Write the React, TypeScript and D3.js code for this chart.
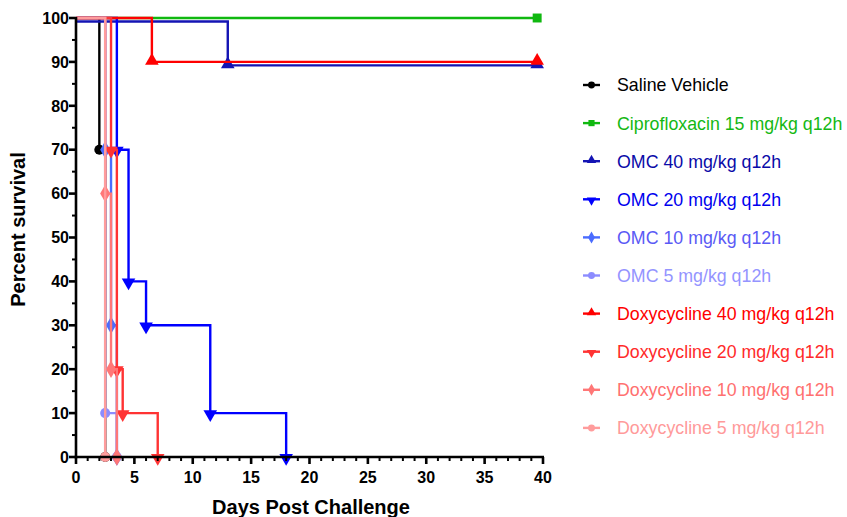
import React from "react";
import * as d3 from "d3";

// ---- data ----
const seriesNames = [
  "Saline Vehicle",
  "Ciprofloxacin 15 mg/kg q12h",
  "OMC 40 mg/kg q12h",
  "OMC 20 mg/kg q12h",
  "OMC 10 mg/kg q12h",
  "OMC 5 mg/kg q12h",
  "Doxycycline 40 mg/kg q12h",
  "Doxycycline 20 mg/kg q12h",
  "Doxycycline 10 mg/kg q12h",
  "Doxycycline 5 mg/kg q12h",
];

const salineDays = [0, 2, 2.5];
const salinePct = [100, 70, 0];
const ciproDays = [0, 39.5];
const ciproPct = [100, 100];
const omc40Days = [0, 13, 39.5];
const omc40Pct = [99.2, 89.2, 89.2];
const omc20Days = [0, 3.5, 4.5, 6, 11.5, 18];
const omc20Pct = [100, 70, 40, 30, 10, 0];
const omc10Days = [0, 2.5, 3, 3.5];
const omc10Pct = [100, 70, 30, 0];
const omc5Days = [0, 2.5, 3.5];
const omc5Pct = [100, 10, 0];
const doxy40Days = [0, 6.5, 39.5];
const doxy40Pct = [100, 90, 90];
const doxy20Days = [0, 3, 3.5, 4, 7];
const doxy20Pct = [100, 70, 20, 10, 0];
const doxy10Days = [0, 2.5, 3, 3.5];
const doxy10Pct = [100, 60, 20, 0];
const doxy5Days = [0, 2.5];
const doxy5Pct = [100, 0];

const xTicks = [0, 5, 10, 15, 20, 25, 30, 35, 40];
const yTicks = [0, 10, 20, 30, 40, 50, 60, 70, 80, 90, 100];

const allDays = [salineDays, ciproDays, omc40Days, omc20Days, omc10Days, omc5Days, doxy40Days, doxy20Days, doxy10Days, doxy5Days];
const allPct = [salinePct, ciproPct, omc40Pct, omc20Pct, omc10Pct, omc5Pct, doxy40Pct, doxy20Pct, doxy10Pct, doxy5Pct];

const lineColors = ["#000000", "#10b810", "#1414b4", "#0000ff", "#4a6cff", "#8c8cff", "#ff0000", "#ff3333", "#ff7777", "#ff9c9c"];
const textColors = ["#000000", "#14b814", "#0a0aa8", "#0000ee", "#5a5af5", "#9494ff", "#ff0000", "#ff2a2a", "#ff7070", "#ff9a9a"];
const shapes = ["circle", "square", "triUp", "triDown", "diamond", "circle", "triUp", "triDown", "diamond", "circle"];

const W = 847;
const H = 517;
const m = { left: 76, right: 543, top: 18, bottom: 457 };

function symbolPath(shape: string, size: number) {
  if (shape === "circle") return d3.symbol(d3.symbolCircle, size)() as string;
  if (shape === "square") return d3.symbol(d3.symbolSquare, size)() as string;
  if (shape === "diamond") return d3.symbol(d3.symbolDiamond, size * 1.1)() as string;
  return d3.symbol(d3.symbolTriangle, size)() as string;
}

function Marker({ shape, x, y, size, color }: { shape: string; x: number; y: number; size: number; color: string }) {
  const rot = shape === "triDown" ? 180 : 0;
  const dy = shape === "triUp" ? -1 : shape === "triDown" ? 1 : 0;
  return (
    <path
      d={symbolPath(shape, size)}
      transform={`translate(${x},${y + dy}) rotate(${rot})`}
      fill={color}
    />
  );
}

export default function App() {
  const x = d3.scaleLinear().domain([0, 40]).range([m.left, m.right]);
  const y = d3.scaleLinear().domain([0, 100]).range([m.bottom, m.top]);
  const line = d3
    .line<[number, number]>()
    .x((d) => x(d[0]))
    .y((d) => y(d[1]))
    .curve(d3.curveStepAfter);

  const font = "'Liberation Sans', Arial, Helvetica, sans-serif";
  const xMinor = d3.range(0, 41, 1);
  const yMinor = d3.range(5, 100, 10);

  const legendY0 = 85;
  const legendStep = 38.1;

  return (
    <svg
      width={W}
      height={H}
      style={{ position: "fixed", left: 0, top: 0, background: "#fff" }}
      fontFamily={font}
    >
      {/* series */}
      {allDays.map((days, i) => {
        const pts = days.map((d, j) => [d, allPct[i][j]] as [number, number]);
        return (
          <g key={i}>
            <path d={line(pts) as string} fill="none" stroke={lineColors[i]} strokeWidth={2.4} />
            {pts.slice(1).map((p, j) => (
              <Marker key={j} shape={shapes[i]} x={x(p[0])} y={y(p[1])} size={80} color={lineColors[i]} />
            ))}
          </g>
        );
      })}

      {/* axes */}
      <g stroke="#000" strokeWidth={2.6}>
        <line x1={m.left} x2={m.left} y1={m.top - 1} y2={m.bottom + 1.3} />
        <line x1={m.left - 1.3} x2={m.right + 1} y1={m.bottom} y2={m.bottom} />
        {yTicks.map((t) => (
          <line key={"y" + t} x1={m.left - 7} x2={m.left} y1={y(t)} y2={y(t)} />
        ))}
        {yMinor.map((t) => (
          <line key={"ym" + t} x1={m.left - 4} x2={m.left} y1={y(t)} y2={y(t)} strokeWidth={2} />
        ))}
        {xMinor.map((t) => (
          <line
            key={"xm" + t}
            x1={x(t)}
            x2={x(t)}
            y1={m.bottom}
            y2={m.bottom + (t % 5 === 0 ? 7 : 4)}
            strokeWidth={t % 5 === 0 ? 2.6 : 2}
          />
        ))}
      </g>
      {yTicks.map((t) => (
        <text key={"yl" + t} x={m.left - 7} y={y(t)} dy="0.36em" textAnchor="end" fontSize={16} fontWeight="bold">
          {t}
        </text>
      ))}
      {xTicks.map((t) => (
        <text key={"xl" + t} x={x(t)} y={m.bottom + 20} dy="0.36em" textAnchor="middle" fontSize={16} fontWeight="bold">
          {t}
        </text>
      ))}
      <text x={311} y={514} textAnchor="middle" fontSize={20} fontWeight="bold">
        Days Post Challenge
      </text>
      <text
        transform={`translate(25,${(m.top + m.bottom) / 2 - 8}) rotate(-90)`}
        textAnchor="middle"
        fontSize={20}
        fontWeight="bold"
      >
        Percent survival
      </text>

      {/* legend */}
      {seriesNames.map((name, i) => {
        const ly = legendY0 + i * legendStep;
        return (
          <g key={"lg" + i}>
            <line x1={583} x2={600} y1={ly} y2={ly} stroke={lineColors[i]} strokeWidth={2.4} />
            <Marker shape={shapes[i]} x={591.5} y={ly} size={38} color={lineColors[i]} />
            <text x={617} y={ly} dy="0.36em" fontSize={17.8} fill={textColors[i]}>
              {name}
            </text>
          </g>
        );
      })}
    </svg>
  );
}
